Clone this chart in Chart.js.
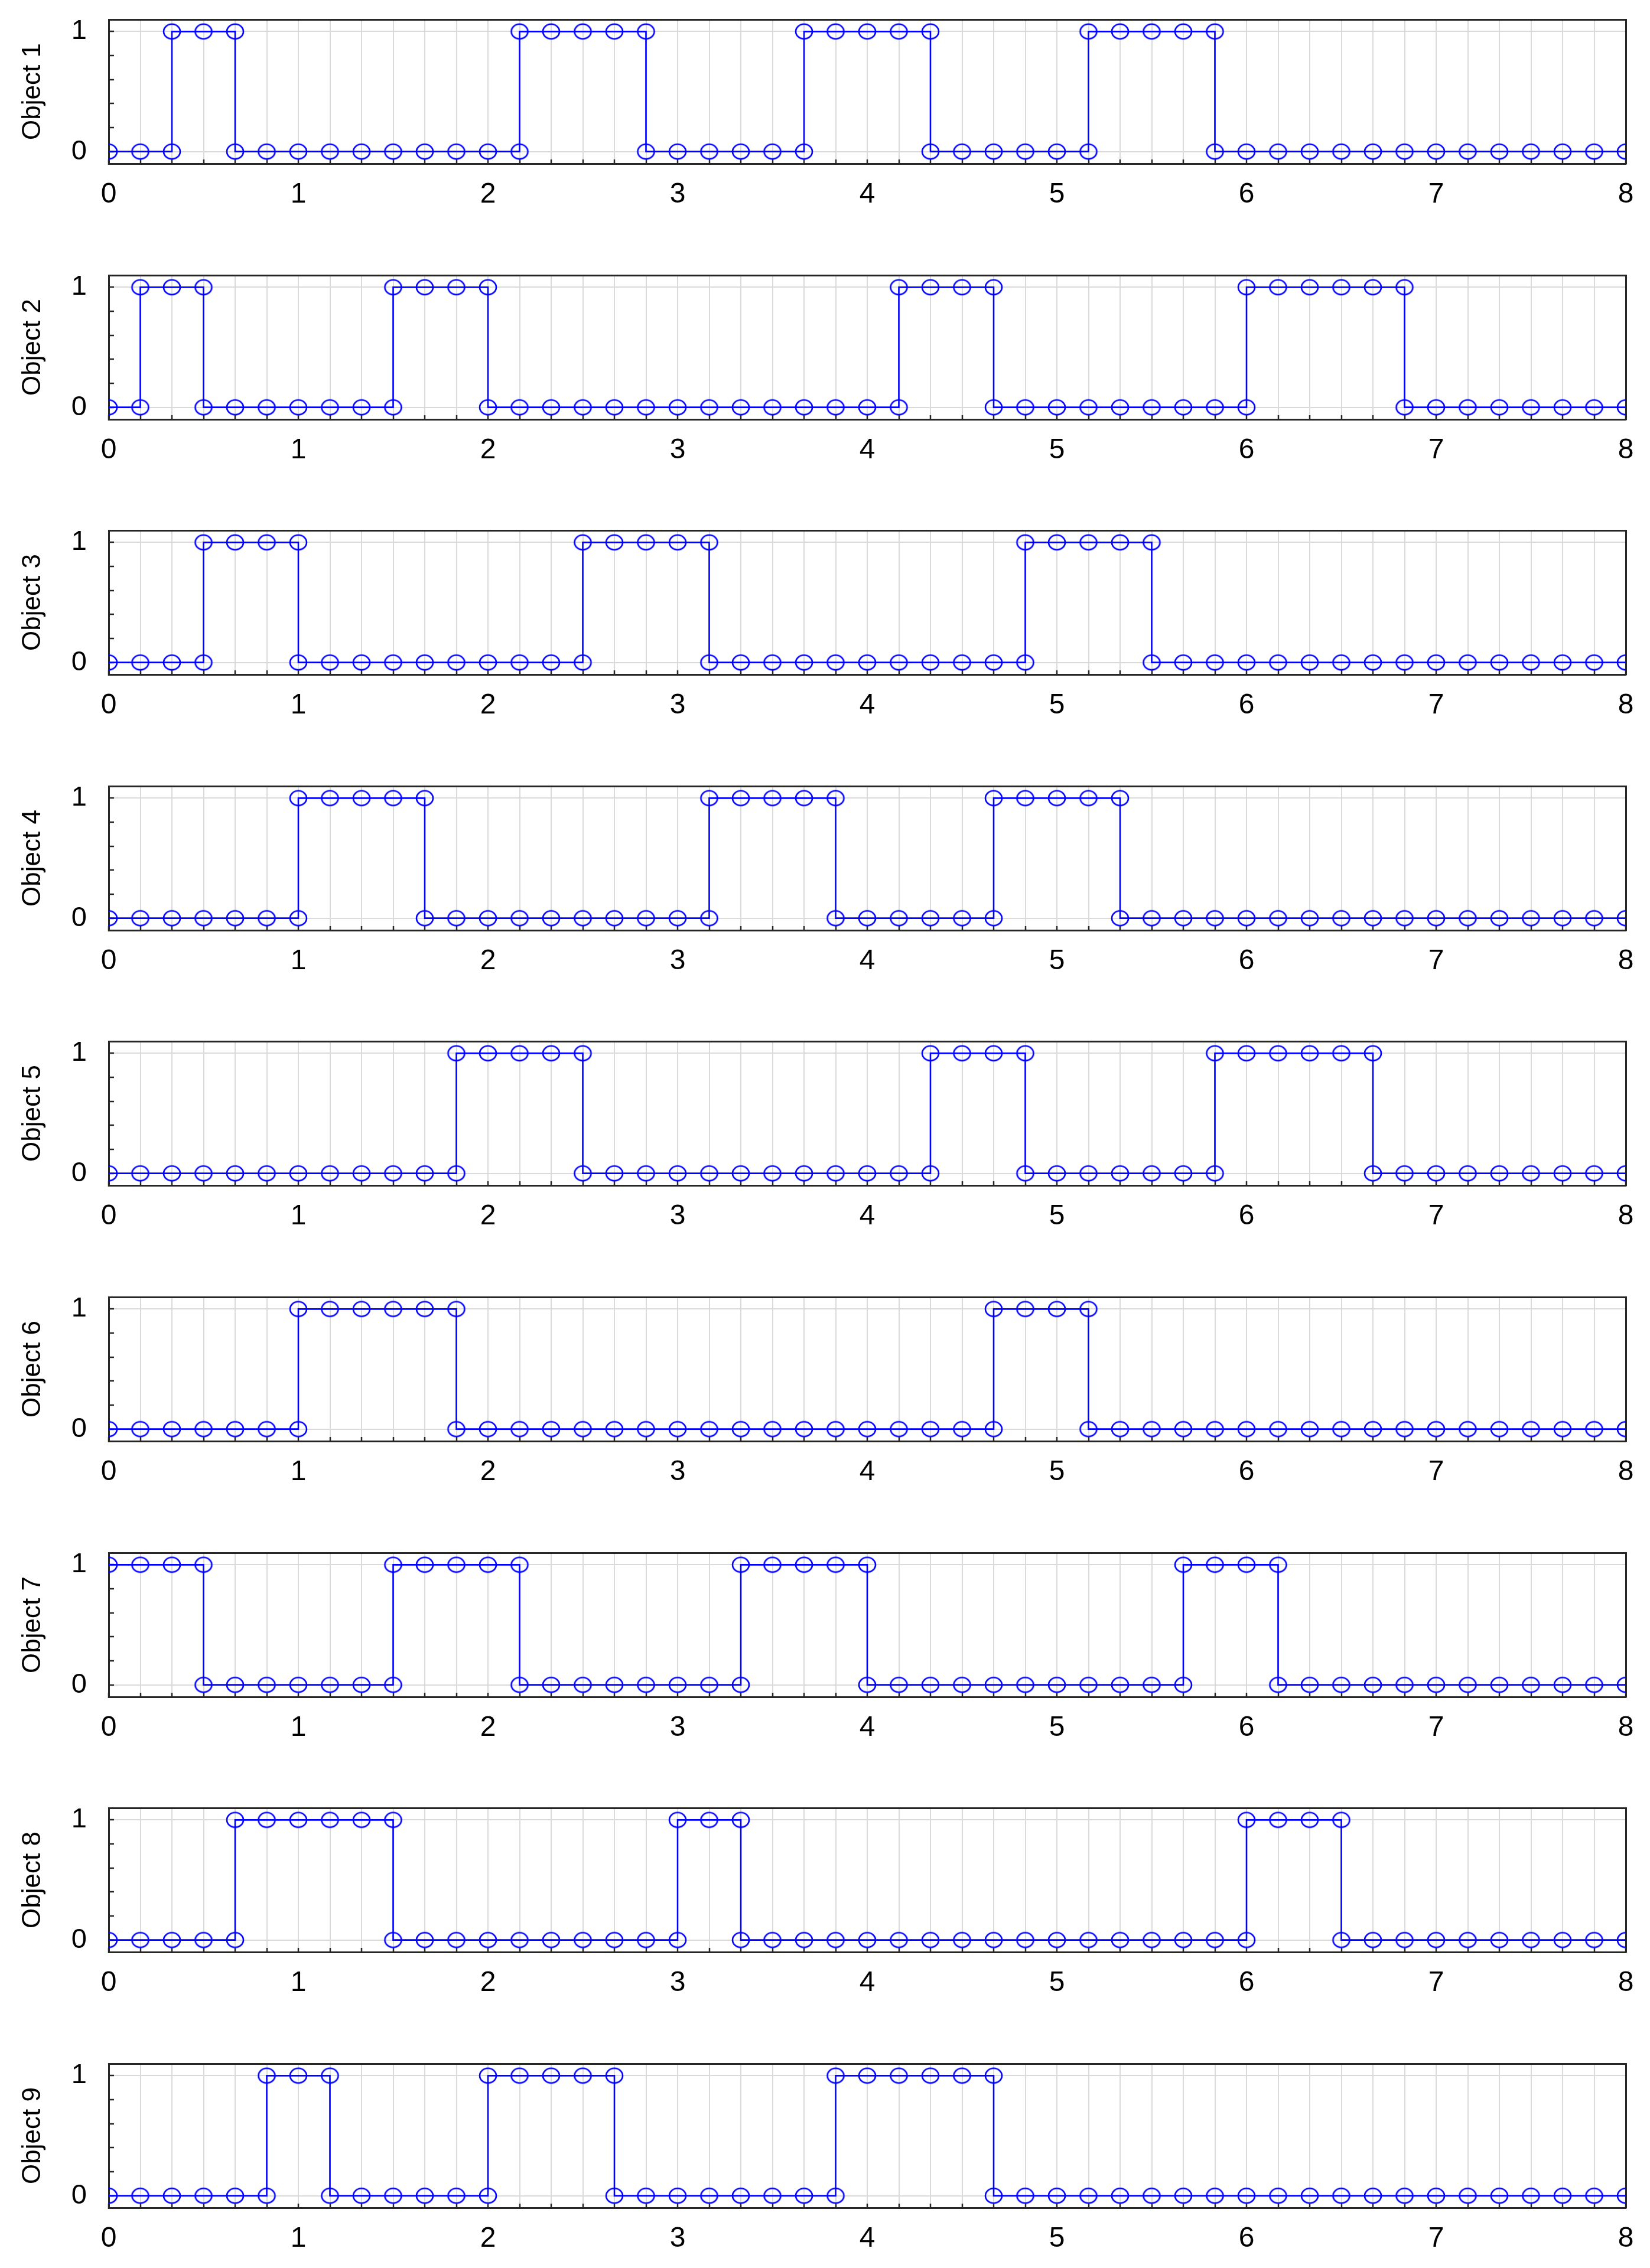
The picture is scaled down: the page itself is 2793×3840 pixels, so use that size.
<!DOCTYPE html>
<html>
<head>
<meta charset="utf-8">
<script src="https://cdn.jsdelivr.net/npm/chart.js@4.4.1/dist/chart.umd.min.js"></script>
<style>
    html, body { margin: 0; padding: 0; background: #fff; overflow: hidden; }
    #wrap { position: relative; width: 2793px; height: 3840px; }
    #wrap canvas { position: absolute; left: 0; }
</style>
</head>
<body>
<div id="wrap"></div>
<script>
// time axis is sampled every 1/6; each pair is [first, last] sample index where the object is 1
const object1On = [[2, 4], [13, 17], [22, 26], [31, 35]];
const object2On = [[1, 3], [9, 12], [25, 28], [36, 41]];
const object3On = [[3, 6], [15, 19], [29, 33]];
const object4On = [[6, 10], [19, 23], [28, 32]];
const object5On = [[11, 15], [26, 29], [35, 40]];
const object6On = [[6, 11], [28, 31]];
const object7On = [[0, 3], [9, 13], [20, 24], [34, 37]];
const object8On = [[4, 9], [18, 20], [36, 39]];
const object9On = [[5, 7], [12, 16], [23, 28]];

const objectNames = ['Object 1', 'Object 2', 'Object 3', 'Object 4', 'Object 5',
    'Object 6', 'Object 7', 'Object 8', 'Object 9'];
const objectRanges = [object1On, object2On, object3On, object4On, object5On,
    object6On, object7On, object8On, object9On];

const samplesPerUnit = 6;
const lastSample = 48;
const xTickLabels = ['0', '1', '2', '3', '4', '5', '6', '7', '8'];
const yTickValues = [0, 0.2, 0.4, 0.6, 0.8, 1];
const yTickLabels = ['0', '', '', '', '', '1'];

const W = 2793;
const H = 433;
const pitch = 432.6;
const BLUE = '#0000ff';
const FRAME = '#262626';
const GRID = '#dadada';
const FONT = "'Liberation Sans', Arial, sans-serif";

function buildPoints(ranges) {
    const pts = [];
    let k = 0;
    ranges.forEach(([a, b]) => {
        for (; k < a; k++) pts.push({x: k / samplesPerUnit, y: 0});
        if (a > 0) pts.push({x: a / samplesPerUnit, y: 0});
        for (k = a; k <= b; k++) pts.push({x: k / samplesPerUnit, y: 1});
        pts.push({x: b / samplesPerUnit, y: 0});
        k = b + 1;
    });
    for (; k <= lastSample; k++) pts.push({x: k / samplesPerUnit, y: 0});
    return pts;
}

// slightly flattened open circle, like the original markers
function makeMarker() {
    const c = document.createElement('canvas');
    c.width = 34;
    c.height = 32;
    const ctx = c.getContext('2d');
    ctx.strokeStyle = BLUE;
    ctx.lineWidth = 2.6;
    ctx.beginPath();
    ctx.ellipse(17, 16, 14, 12.5, 0, 0, Math.PI * 2);
    ctx.stroke();
    return c;
}

const marker = makeMarker();

function noPadding(scale) {
    scale.paddingTop = 0;
    scale.paddingBottom = 0;
    scale.paddingLeft = 0;
    scale.paddingRight = 0;
}

function makePanel(index) {
    const canvas = document.createElement('canvas');
    canvas.width = W;
    canvas.height = H;
    canvas.style.top = Math.round(index * pitch) + 'px';
    document.getElementById('wrap').appendChild(canvas);

    new Chart(canvas, {
        type: 'scatter',
        data: {
            datasets: [{
                data: buildPoints(objectRanges[index]),
                showLine: true,
                borderColor: BLUE,
                borderWidth: 2.6,
                pointStyle: marker,
                pointRadius: 14,
                pointHoverRadius: 14,
                clip: 0,
            }]
        },
        options: {
            responsive: false,
            animation: false,
            devicePixelRatio: 1,
            events: [],
            layout: { padding: { top: 33, right: 41, left: 0, bottom: 0 } },
            plugins: { legend: { display: false }, tooltip: { enabled: false } },
            scales: {
                x: {
                    type: 'linear',
                    position: 'bottom',
                    min: 0,
                    max: 8,
                    afterBuildTicks: (scale) => {
                        const t = [];
                        for (let k = 0; k <= lastSample; k++) t.push({value: k / samplesPerUnit});
                        scale.ticks = t;
                    },
                    afterFit: (scale) => { scale.height = H - 33 - 244; noPadding(scale); },
                    grid: {
                        color: GRID,
                        lineWidth: 2,
                        tickColor: FRAME,
                        tickWidth: 2.5,
                        tickLength: -7,
                    },
                    border: { color: FRAME, width: 3 },
                    ticks: {
                        autoSkip: false,
                        maxRotation: 0,
                        padding: 31,
                        color: '#000',
                        font: { family: FONT, size: 48 },
                        callback: (v, i) => (i % samplesPerUnit === 0 ? xTickLabels[i / samplesPerUnit] : ''),
                    },
                },
                x2: {
                    type: 'linear',
                    position: 'top',
                    min: 0,
                    max: 8,
                    afterFit: (scale) => { scale.height = 0; noPadding(scale); },
                    grid: { drawOnChartArea: false, drawTicks: false },
                    border: { color: FRAME, width: 3 },
                    ticks: { display: false },
                },
                y: {
                    type: 'linear',
                    position: 'left',
                    min: -0.1,
                    max: 1.1,
                    afterBuildTicks: (scale) => {
                        scale.ticks = yTickValues.map(v => ({value: v}));
                    },
                    afterFit: (scale) => { scale.width = 184; noPadding(scale); },
                    grid: {
                        color: (ctx) => (ctx.tick && yTickLabels[ctx.index] !== '' ? GRID : 'rgba(0,0,0,0)'),
                        lineWidth: 2,
                        tickColor: FRAME,
                        tickWidth: 2.5,
                        tickLength: -9,
                    },
                    border: { color: FRAME, width: 3 },
                    ticks: {
                        autoSkip: false,
                        padding: 46,
                        color: '#000',
                        font: { family: FONT, size: 47 },
                        callback: (v, i) => yTickLabels[i],
                    },
                    title: {
                        display: true,
                        text: objectNames[index],
                        color: '#000',
                        font: { family: FONT, size: 44 },
                        padding: { top: 29, bottom: 0 },
                    },
                },
                y2: {
                    type: 'linear',
                    position: 'right',
                    min: -0.1,
                    max: 1.1,
                    afterFit: (scale) => { scale.width = 0; noPadding(scale); },
                    grid: { drawOnChartArea: false, drawTicks: false },
                    border: { color: FRAME, width: 3 },
                    ticks: { display: false },
                },
            },
        },
    });
}

for (let i = 0; i < objectNames.length; i++) {
    makePanel(i);
}
</script>
</body>
</html>
